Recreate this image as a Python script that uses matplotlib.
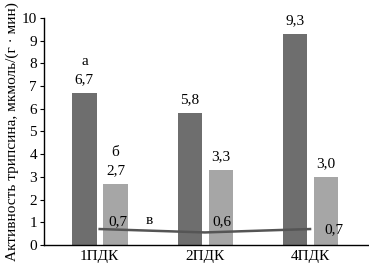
import matplotlib
matplotlib.use("Agg")
from matplotlib import pyplot as plt
import numpy as np

groups = ["1ПДК", "2ПДК", "4ПДК"]
dark_vals = [6.7, 5.8, 9.3]
light_vals = [2.7, 3.3, 3.0]
line_vals = [0.7, 0.6, 0.7]
line_plot = [0.7, 0.55, 0.7]
dark_marks = ["а", "", ""]
light_marks = ["б", "", ""]


def fmt(v):
    return ("%.1f" % v).replace(".", ",")


def main():
    plt.rcParams['font.family'] = ['Liberation Serif', 'DejaVu Serif']
    fs = 11
    fig = plt.figure(figsize=(3.69, 2.78), dpi=100)
    ax = fig.add_axes([0.119, 0.119, 0.878, 0.816])

    x = np.arange(len(groups))
    w = 0.23
    ax.bar(x - 0.145, dark_vals, w, color="#6e6e6e", zorder=2)
    ax.bar(x + 0.15, light_vals, w, color="#a6a6a6", zorder=2)
    ax.plot(x, line_plot, color="#555555", lw=1.8, zorder=3)

    for i in range(3):
        ax.text(x[i] - 0.145, dark_vals[i] + 0.3, fmt(dark_vals[i]),
                ha="center", va="bottom", fontsize=fs)
        ax.text(x[i] + 0.15, light_vals[i] + 0.3, fmt(light_vals[i]),
                ha="center", va="bottom", fontsize=fs)
        if dark_marks[i]:
            ax.text(x[i] - 0.145, dark_vals[i] + 1.1, dark_marks[i],
                    ha="center", va="bottom", fontsize=fs)
        if light_marks[i]:
            ax.text(x[i] + 0.15, light_vals[i] + 1.1, light_marks[i],
                    ha="center", va="bottom", fontsize=fs)

    ax.text(x[0] + 0.17, 0.72, fmt(line_vals[0]), ha="center", va="bottom", fontsize=fs, zorder=4)
    ax.text(x[1] + 0.16, 0.72, fmt(line_vals[1]), ha="center", va="bottom", fontsize=fs, zorder=4)
    ax.text(x[2] + 0.14, 0.68, fmt(line_vals[2]), ha="left", va="center", fontsize=fs, zorder=4)
    ax.text(x[0] + 0.47, 0.8, "в", ha="center", va="bottom", fontsize=fs)

    ax.set_xlim(-0.53, 2.55)
    ax.set_ylim(0, 10)
    ax.set_yticks(range(0, 11))
    ax.set_xticks(x)
    ax.set_xticklabels(groups, fontsize=fs)
    ax.tick_params(axis="x", length=0, pad=4)
    ax.tick_params(axis="y", labelsize=fs, length=3, pad=2)
    ax.spines["top"].set_visible(False)
    ax.spines["right"].set_visible(False)
    ax.spines["left"].set_linewidth(1)
    ax.spines["bottom"].set_linewidth(1)
    ax.set_ylabel("Активность трипсина, мкмоль/(г · мин)", fontsize=fs, labelpad=2)

    fig.savefig("out.png", dpi=100)


if __name__ == "__main__":
    main()
